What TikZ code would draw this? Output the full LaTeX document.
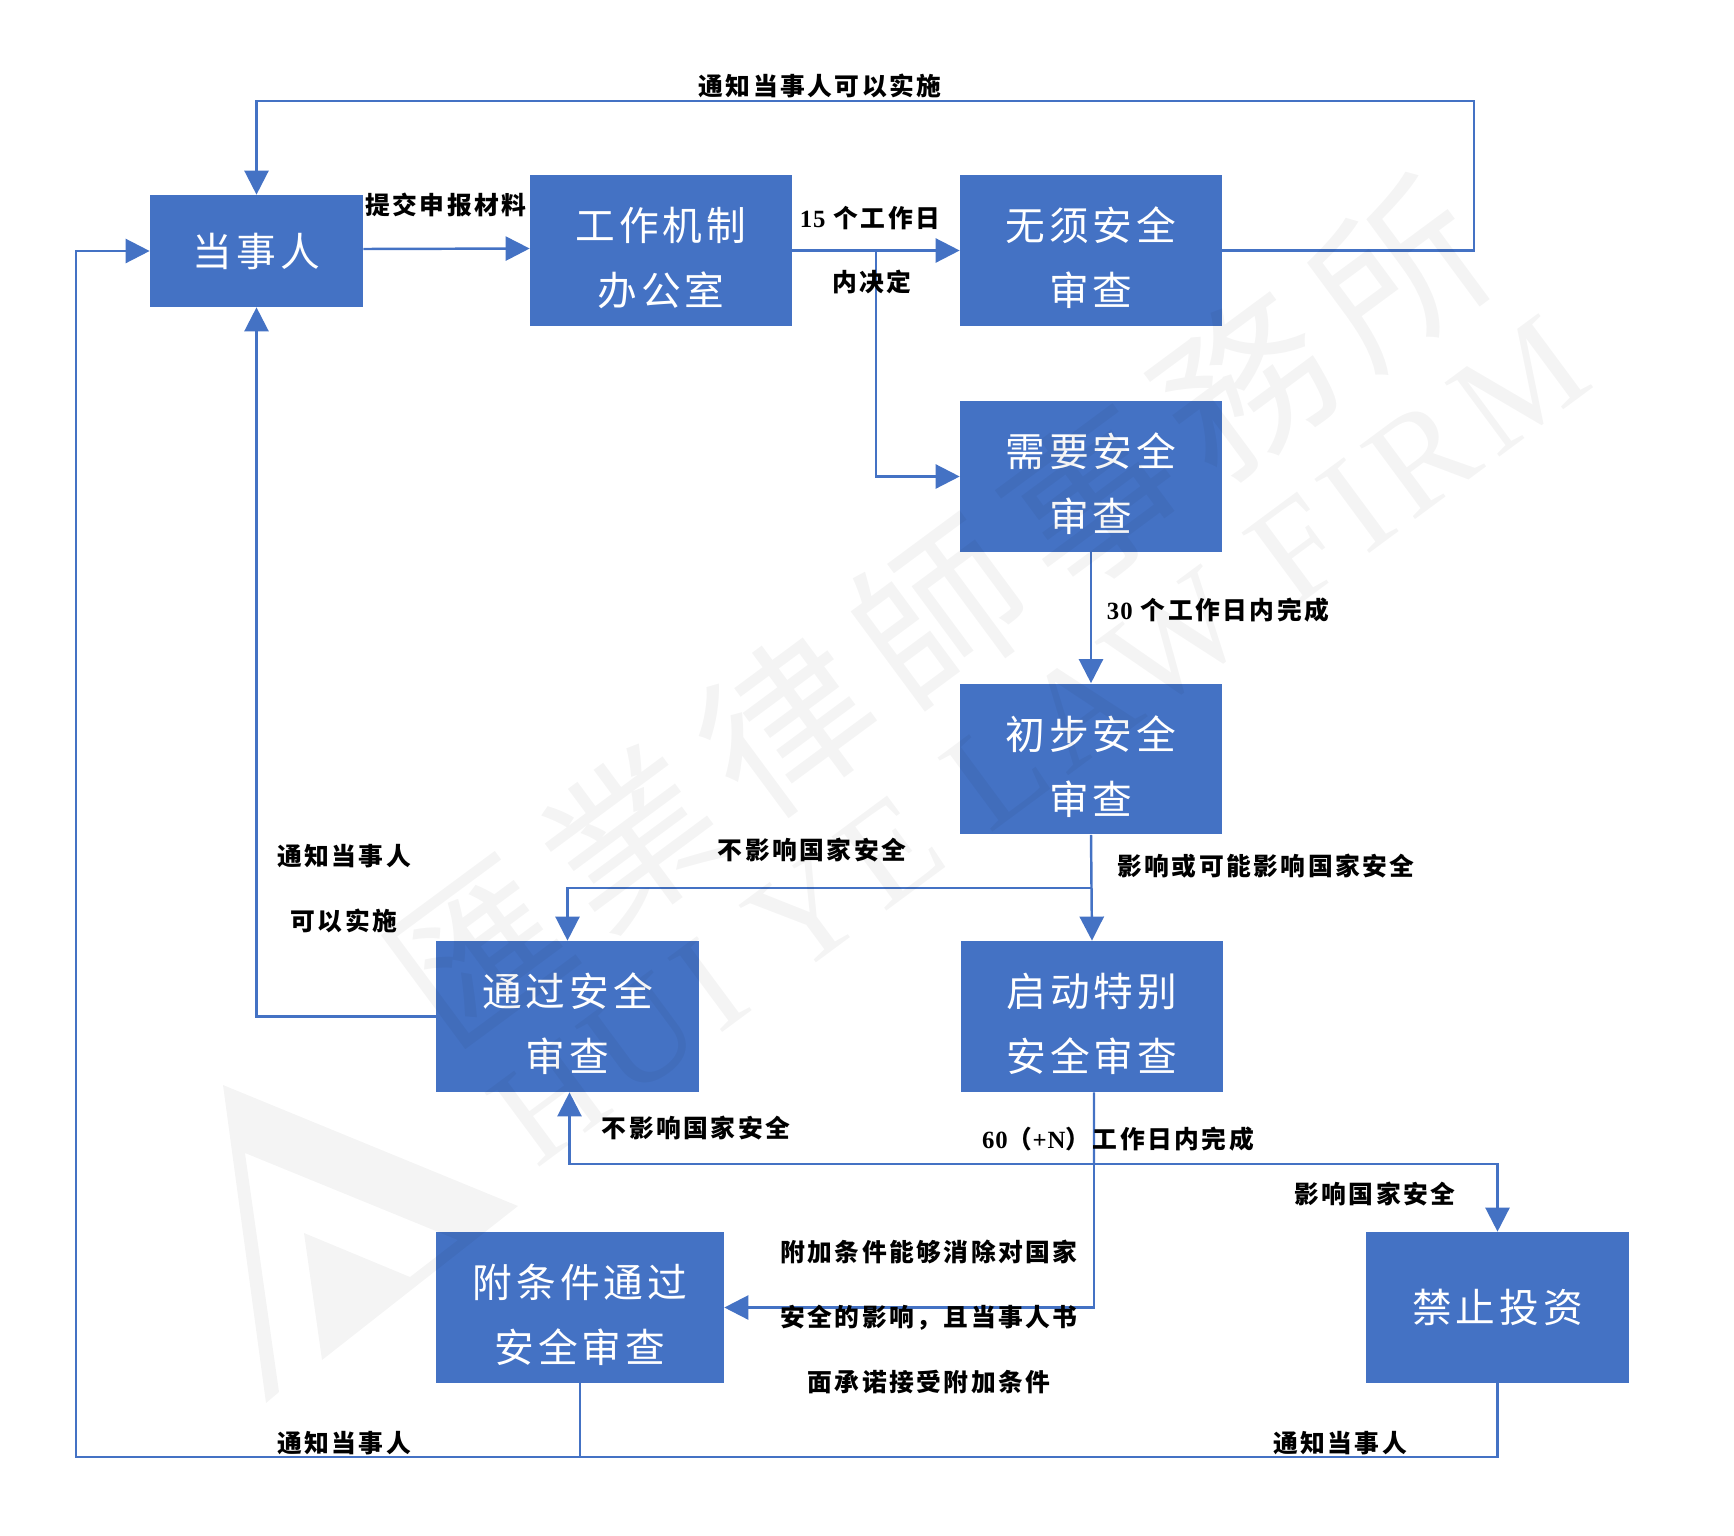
\documentclass[tikz,border=0pt]{standalone}
\usepackage{fontspec}
\usetikzlibrary{arrows.meta,positioning}
\setmainfont[LetterSpace=10]{Noto Sans CJK SC}
\newfontfamily\latinfont[LetterSpace=4]{Liberation Serif}
\newfontfamily\markfont[LetterSpace=13]{Noto Sans CJK TC}
\newfontfamily\markserif[LetterSpace=8]{Liberation Serif}
\definecolor{flowblue}{HTML}{4472C4}
\tikzset{
procbox/.style={fill=flowblue,draw=none,text=white,align=center,inner sep=0pt,font=\fontsize{22.6pt}{37pt}\selectfont},
boxa/.style={procbox,minimum width=5.24cm,minimum height=3.02cm,text height=64.5pt},
note/.style={align=center,inner sep=0pt,text=black,font=\fontsize{14.1pt}{16pt}\selectfont\bfseries},
flow/.style={draw=flowblue,line width=1.4pt,-{Triangle[length=13.7pt,width=13.7pt]}},
wire/.style={draw=flowblue,line width=1.4pt},
wmark/.style={opacity=.045,inner sep=0pt,rotate=36.5}
}
\begin{document}
\begin{tikzpicture}[x=.02cm,y=-.02cm]
\useasboundingbox (0,0) rectangle (1734,1535);
\node[procbox,minimum width=4.26cm,minimum height=2.24cm] (party) at (256.5,251) {当事人};
\node[boxa] (office) at (661,250.5) {工作机制\\办公室};
\node[boxa] (exempt) at (1091,250.5) {无须安全\\审查};
\node[boxa] (need) at (1091,476.5) {需要安全\\审查};
\node[boxa] (prelim) at (1091,759) {初步安全\\审查};
\node[boxa,minimum width=5.26cm] (pass) at (567.5,1016.5) {通过安全\\审查};
\node[boxa] (special) at (1092,1016.5) {启动特别\\安全审查};
\node[boxa,minimum width=5.76cm] (cond) at (580,1307.5) {附条件通过\\安全审查};
\node[procbox,minimum width=5.26cm,minimum height=3.02cm] (ban) at (1497.5,1307.5) {禁止投资};
\coordinate (topr) at (1474,101);
\coordinate (topl) at (256.5,101);
\coordinate (jnoffice) at (876,250.5);
\coordinate (jnprelim) at (1091,888);
\coordinate (jnspecial) at (1094,1164);
\coordinate (botr) at (1497.5,1457);
\coordinate (botc) at (580,1457);
\coordinate (botl) at (76,1457);
\draw[flow] ([yshift=.04cm]party.east) -- ([yshift=.04cm]office.west);
\draw[flow] (office.east) -- (exempt.west);
\draw[flow] (jnoffice) |- (need.west);
\draw[flow] (exempt.east) -| (topr) -- (topl) -- (party.north);
\draw[flow] (need.south) -- (prelim.north);
\draw[flow] (prelim.south) -- (special.north);
\draw[flow] (jnprelim) -| (pass.north);
\draw[flow] (pass.west) -| (party.south);
\draw[wire] ([xshift=.04cm]special.south) -- (jnspecial);
\draw[flow] (jnspecial) -| ([xshift=.04cm]pass.south);
\draw[flow] (jnspecial) -| (ban.north);
\draw[flow] (jnspecial) |- (cond.east);
\draw[wire] (cond.south) -- (botc);
\draw[flow] (ban.south) -- (botr) -- (botl) |- (party.west);
\node[note] (ntop) at (820,86) {通知当事人可以实施};
\node[note] (nsubmit) at (446,205) {提交申报材料};
\node[note] (nfifteen) at (870,218) {{\latinfont 15} 个工作日};
\node[note] (ndecide) at (872,282) {内决定};
\node[note] (nthirty) at (1218,610) {{\latinfont 30} 个工作日内完成};
\node[note] (naffect) at (1266,866) {影响或可能影响国家安全};
\node[note] (nsafe) at (812,850) {不影响国家安全};
\node[note] (npermit) at (344,888.5) {通知当事人\\[21pt]可以实施};
\node[note] (nsafeb) at (696,1128) {不影响国家安全};
\node[note] (nsixty) at (1118,1139) {{\latinfont 60}（{\latinfont +N}）工作日内完成};
\node[note] (nforbid) at (1375,1194) {影响国家安全};
\node[note] (nterms) at (929,1317) {附加条件能够消除对国家\\[21pt]安全的影响，且当事人书\\[21pt]面承诺接受附加条件};
\node[note] (nbotl) at (344,1443) {通知当事人};
\node[note] (nbotr) at (1340,1443) {通知当事人};
\node[wmark,font=\fontsize{96pt}{96pt}\selectfont\markfont] (wmcn) at (939,612) {匯業律師事務所};
\node[wmark,font=\fontsize{80pt}{80pt}\selectfont\markserif] (wmen) at (1040,741) {HUI YE LAW FIRM};
\fill[black,opacity=.045] (223,1085) -- (518,1206) -- (322,1360) -- (304,1233) -- (410,1277) -- (458,1240) -- (245,1153) -- (279,1392) -- (266,1403) -- cycle;
\end{tikzpicture}
\end{document}
